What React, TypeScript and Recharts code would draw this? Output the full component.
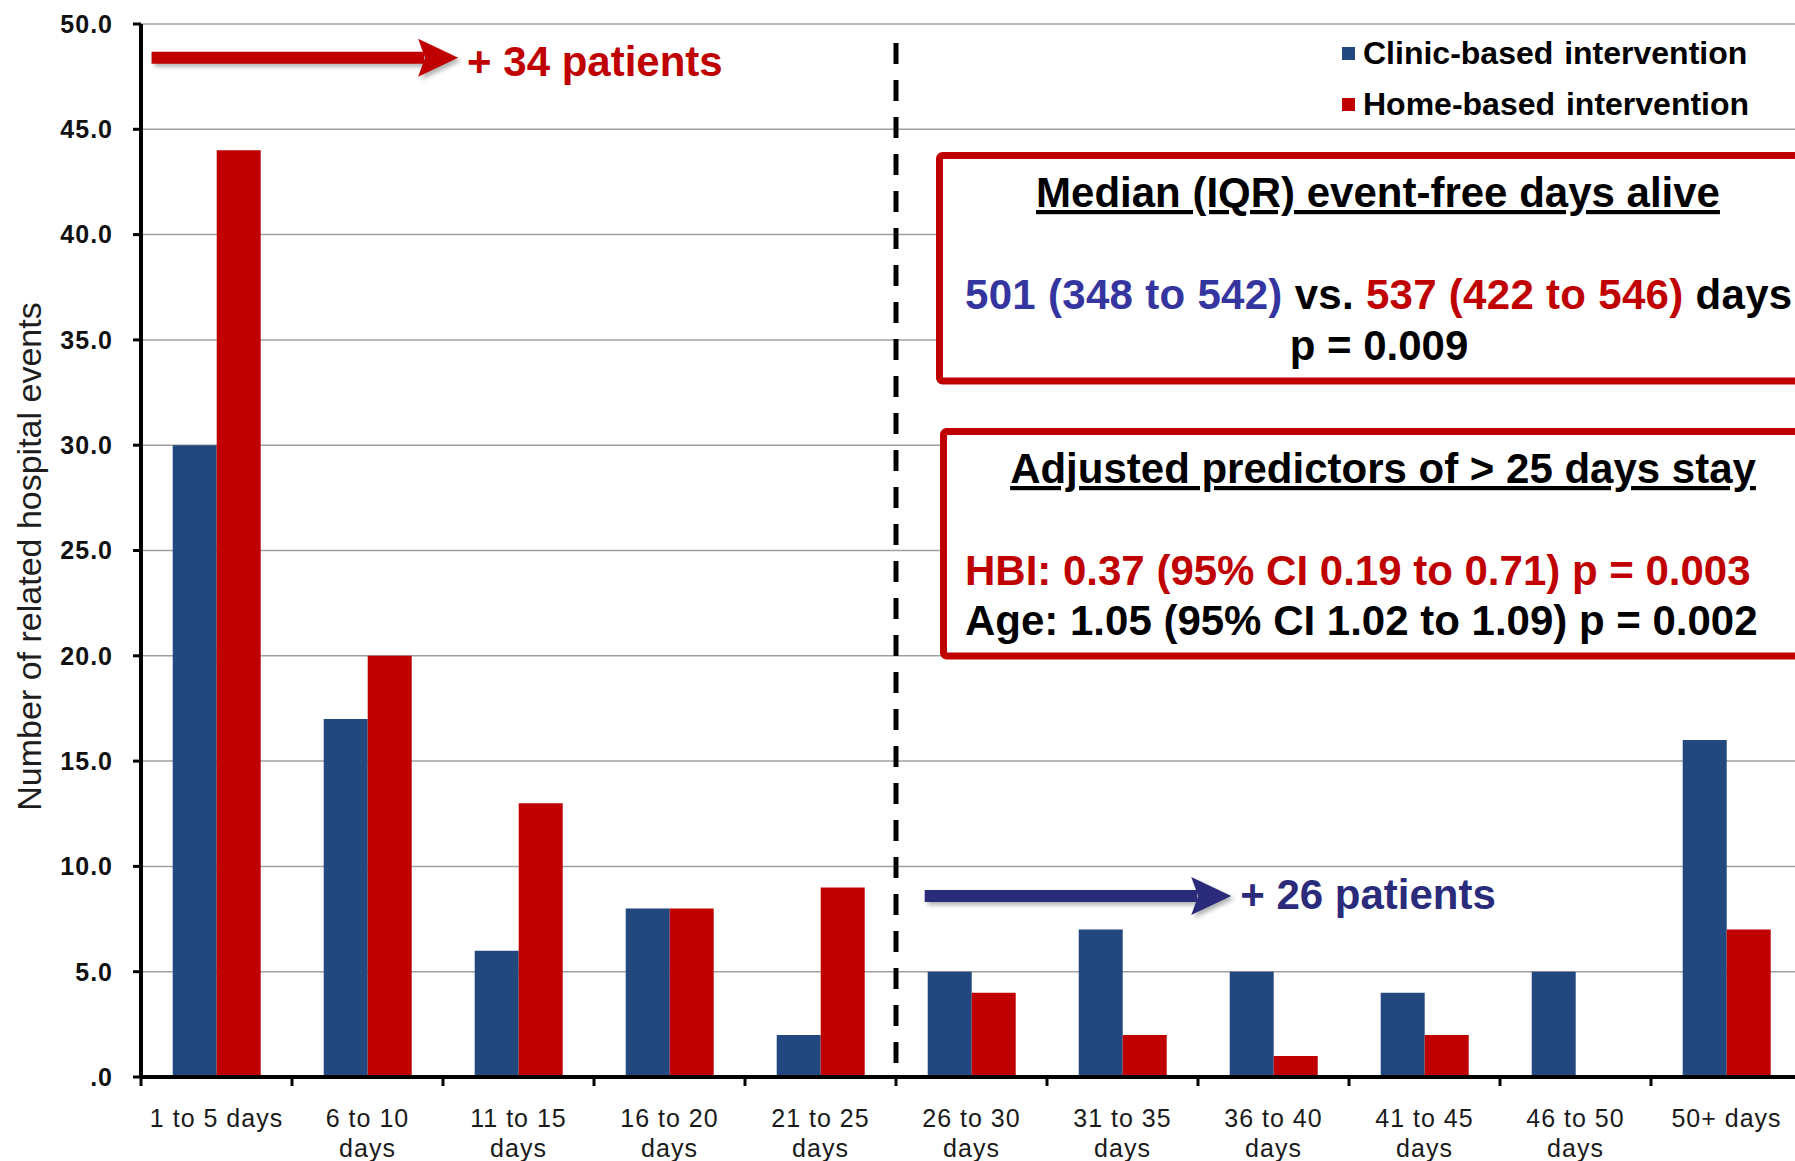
import React from "react";
import {
  BarChart,
  Bar,
  XAxis,
  YAxis,
  CartesianGrid,
  ReferenceLine,
  Legend,
} from "recharts";

const categories = [
  "1 to 5 days",
  "6 to 10 days",
  "11 to 15 days",
  "16 to 20 days",
  "21 to 25 days",
  "26 to 30 days",
  "31 to 35 days",
  "36 to 40 days",
  "41 to 45 days",
  "46 to 50 days",
  "50+ days",
];
const clinicBased = [30, 17, 6, 8, 2, 5, 7, 5, 4, 5, 16];
const homeBased = [44, 20, 13, 8, 9, 4, 2, 1, 2, 0, 7];
const yTicks = [0, 5, 10, 15, 20, 25, 30, 35, 40, 45, 50];
const seriesNames = ["Clinic-based intervention", "Home-based intervention"];

const BLUE = "#23487f";
const RED = "#c00000";
const NAVY = "#2b2b7c";
const TEXT_BLUE = "#3535a0";
const FONT = "'Liberation Sans', Arial, Helvetica, sans-serif";

// slot = centre of each category on a 0..11 numeric scale
const data = categories.map((cat, i) => ({
  cat,
  slot: i + 0.5,
  clinic: clinicBased[i],
  home: homeBased[i],
}));

// integers = category borders (tick marks), halves = centres (labels)
const borderTicks = categories
  .flatMap((_, i) => [i, i + 0.5])
  .concat(categories.length);

// annotation positions, in data units of the numeric x axis / y axis
const redArrow = { x1: 0.07, x2: 2.1, y: 48.4, text: "+ 34 patients", dy: 18 };
const blueArrow = { x1: 5.19, x2: 7.22, y: 8.6, text: "+ 26 patients", dy: 13 };
const dividerAt = 5;

function arrowShape(color: string, text: string, dy: number) {
  return (p: any) => {
    const { x1, y1, x2, y2 } = p;
    const len = 40;
    const half = 19;
    return (
      <g>
        <g style={{ filter: "drop-shadow(3px 3px 2px rgba(0,0,0,0.3))" }}>
          <line x1={x1} y1={y1} x2={x2 - len + 6} y2={y2} stroke={color} strokeWidth={12} />
          <polygon
            points={`${x2 - len},${y2 - half} ${x2},${y2} ${x2 - len},${y2 + half} ${x2 - len + 7},${y2}`}
            fill={color}
          />
        </g>
        <text x={x2 + 9} y={y2 + dy} fill={color} fontSize={42} fontWeight={700} fontFamily={FONT}>
          {text}
        </text>
      </g>
    );
  };
}

function BottomTick(props: any) {
  const { x, y, payload } = props;
  const v = payload.value as number;
  if (Number.isInteger(v)) {
    return <line x1={x} x2={x} y1={y} y2={y + 9} stroke="#000" strokeWidth={3} />;
  }
  const label = categories[Math.floor(v)];
  const lines = label.length > 11 ? [label.replace(/ days$/, ""), "days"] : [label];
  return (
    <text
      x={x}
      y={y + 50}
      textAnchor="middle"
      fontSize={25}
      letterSpacing={1}
      fill="#1a1a1a"
      fontFamily={FONT}
    >
      {lines.map((l, i) => (
        <tspan key={i} x={x} dy={i === 0 ? 0 : 30}>
          {l}
        </tspan>
      ))}
    </text>
  );
}

function yLabel(props: any) {
  const vb = props.viewBox || { x: 0, y: 24, width: 141, height: 1053 };
  const cx = vb.x + 41;
  const cy = vb.y + vb.height / 2 + 6;
  return (
    <text
      x={cx}
      y={cy}
      transform={`rotate(-90 ${cx} ${cy})`}
      textAnchor="middle"
      fontSize={34}
      fill="#1e1e1e"
      fontFamily={FONT}
    >
      Number of related hospital events
    </text>
  );
}

function LegendBox() {
  const colors = [BLUE, RED];
  return (
    <div style={{ fontFamily: FONT, fontWeight: 700, fontSize: 32, color: "#000" }}>
      {seriesNames.map((name, i) => (
        <div key={name} style={{ display: "flex", alignItems: "center", height: 51 }}>
          <span
            style={{
              display: "inline-block",
              width: 13,
              height: 13,
              background: colors[i],
              marginRight: 8,
            }}
          />
          <span style={{ wordSpacing: 2 }}>{name}</span>
        </div>
      ))}
    </div>
  );
}

export default function App() {
  const boxText = {
    fontFamily: FONT,
    fontSize: 42,
    fontWeight: 700,
  } as const;
  return (
    <div
      style={{
        position: "absolute",
        left: 0,
        top: 0,
        width: 1795,
        height: 1161,
        overflow: "hidden",
        background: "#fff",
      }}
    >
      <BarChart
        width={1802}
        height={1161}
        data={data}
        margin={{ top: 24, right: 0, bottom: 0, left: 0 }}
        barCategoryGap="21%"
        barGap={0}
      >
        <CartesianGrid vertical={false} stroke="#a0a0a0" strokeWidth={1.5} />
        <XAxis dataKey="cat" hide height={0} />
        <XAxis
          xAxisId="num"
          dataKey="slot"
          type="number"
          domain={[0, categories.length]}
          allowDataOverflow
          ticks={borderTicks}
          interval={0}
          height={84}
          tickSize={0}
          tickMargin={0}
          tickLine={false}
          axisLine={{ stroke: "#000", strokeWidth: 4 }}
          tick={<BottomTick />}
        />
        <YAxis
          width={141}
          domain={[0, 50]}
          ticks={yTicks}
          interval={0}
          tickFormatter={(v: number) => (v === 0 ? ".0" : v.toFixed(1))}
          axisLine={{ stroke: "#000", strokeWidth: 4 }}
          tickLine={{ stroke: "#000", strokeWidth: 3 }}
          tickSize={8}
          tickMargin={20}
          tick={{ fontSize: 25, fontWeight: 700, fill: "#111", fontFamily: FONT, letterSpacing: 1 }}
          label={yLabel}
        />
        <Legend
          layout="vertical"
          align="center"
          verticalAlign="middle"
          wrapperStyle={{ position: "absolute", left: 1342, top: 28, width: 460 }}
          content={() => <LegendBox />}
        />
        <Bar dataKey="clinic" name={seriesNames[0]} fill={BLUE} isAnimationActive={false} />
        <Bar dataKey="home" name={seriesNames[1]} fill={RED} isAnimationActive={false} />
        <ReferenceLine
          xAxisId="num"
          segment={[
            { x: dividerAt, y: 49.1 },
            { x: dividerAt, y: 0 },
          ]}
          stroke="#000"
          strokeWidth={5}
          strokeDasharray="21 16"
        />
        <ReferenceLine
          xAxisId="num"
          segment={[
            { x: redArrow.x1, y: redArrow.y },
            { x: redArrow.x2, y: redArrow.y },
          ]}
          stroke={RED}
          shape={arrowShape(RED, redArrow.text, redArrow.dy)}
        />
        <ReferenceLine
          xAxisId="num"
          segment={[
            { x: blueArrow.x1, y: blueArrow.y },
            { x: blueArrow.x2, y: blueArrow.y },
          ]}
          stroke={NAVY}
          shape={arrowShape(NAVY, blueArrow.text, blueArrow.dy)}
        />
      </BarChart>

      <svg
        width={1795}
        height={1161}
        style={{ position: "absolute", left: 0, top: 0, pointerEvents: "none" }}
      >
        <rect x={939.5} y={155.5} width={900} height={225.5} rx={3} fill="#fff" stroke={RED} strokeWidth={7} />
        <text x={1378} y={207} textAnchor="middle" textDecoration="underline" fill="#000" {...boxText}>
          Median (IQR) event-free days alive
        </text>
        <text x={965} y={309} style={{ whiteSpace: "pre" }} letterSpacing={0.3} {...boxText}>
          <tspan fill={TEXT_BLUE}>501 (348 to 542)</tspan>
          <tspan fill="#000"> vs. </tspan>
          <tspan fill={RED}>537 (422 to 546)</tspan>
          <tspan fill="#000"> days</tspan>
        </text>
        <text x={1379} y={360} textAnchor="middle" fill="#000" {...boxText}>
          p = 0.009
        </text>

        <rect x={943.5} y={431.5} width={900} height={224.5} rx={3} fill="#fff" stroke={RED} strokeWidth={7} />
        <text x={1383} y={483} textAnchor="middle" textDecoration="underline" fill="#000" {...boxText}>
          Adjusted predictors of &gt; 25 days stay
        </text>
        <text x={965} y={585} fill={RED} {...boxText}>
          HBI: 0.37 (95% CI 0.19 to 0.71) p = 0.003
        </text>
        <text x={965} y={635} fill="#000" {...boxText}>
          Age: 1.05 (95% CI 1.02 to 1.09) p = 0.002
        </text>
      </svg>
    </div>
  );
}
